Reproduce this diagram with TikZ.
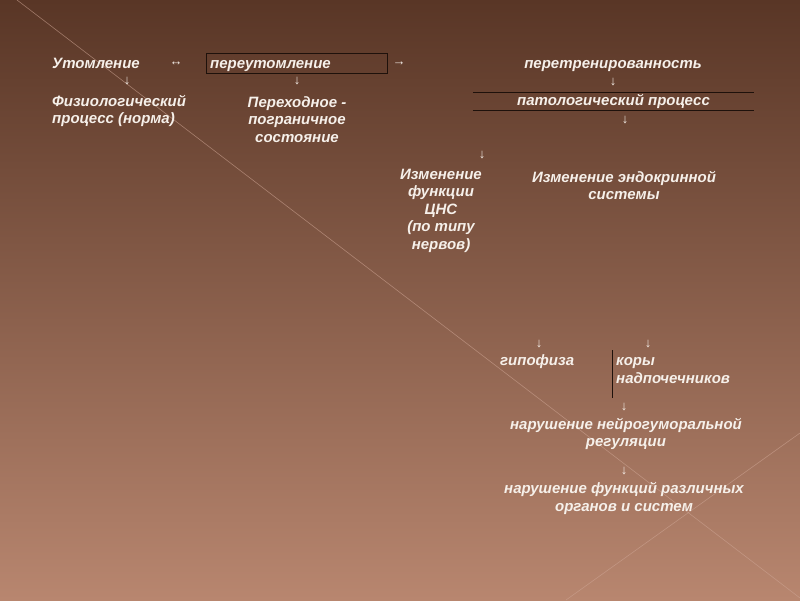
\documentclass[tikz,border=0pt]{standalone}
\usepackage{fontspec}
\setmainfont{Liberation Sans}
\definecolor{bgtop}{HTML}{593626}
\definecolor{bgbot}{HTML}{B8866F}
\definecolor{txt}{HTML}{F6F0EA}
\definecolor{ln}{HTML}{1E110B}
\definecolor{diag}{HTML}{CDA493}
\tikzset{
  lbl/.style={inner sep=0pt, text=txt, font=\fontsize{15}{17.5}\selectfont\bfseries\itshape},
  lblL/.style={lbl, anchor=west, align=left},
  lblC/.style={lbl, align=center},
  arr/.style={inner sep=0pt, text=txt, font=\fontsize{13}{15}\selectfont},
  rule/.style={draw=ln, line width=0.9pt},
  frame/.style={draw=ln, line width=0.9pt, inner sep=0pt},
  diagline/.style={draw=diag, line width=0.6pt, opacity=0.6}
}
\begin{document}
\begin{tikzpicture}[x=1pt,y=-1pt]
\useasboundingbox (0,0) rectangle (800,600);
\shade[top color=bgtop, bottom color=bgbot] (0,0) rectangle (800,600);
\draw[diagline] (17,0) -- (800,598);
\draw[diagline] (800,433) -- (566,600);

% row 1
\node[lbl, anchor=base west] (ut) at (52,68) {Утомление};
\node[arr] (a1) at (176,64) {↔};
\node[frame, minimum width=181pt, minimum height=20pt] (per) at (296.5,63) {};
\node[lbl, anchor=base west] (pert) at (210,68) {переутомление};
\node[arr] (a2) at (399,64) {→};
\node[lbl, anchor=base] (ptr) at (613,68) {перетренированность};

% row 2 arrows
\node[arr] (d1) at (127,81) {↓};
\node[arr] (d2) at (297,81) {↓};
\node[arr] (d3) at (613,82) {↓};

\node[lblL] (fiz) at (52,111) {Физиологический\\процесс (норма)};
\node[lblC] (prx) at (297,119.5) {Переходное -\\пограничное\\состояние};

\node[lbl, minimum width=281pt, minimum height=18pt] (pat) at (613.5,101.3) {патологический процесс};
\draw[rule] (pat.north west) -- (pat.north east);
\draw[rule] (pat.south west) -- (pat.south east);

\node[arr] (d4) at (625,120) {↓};
\node[arr] (d5) at (482,155) {↓};

\node[lblC] (cns) at (441,210.5) {Изменение\\функции\\ЦНС\\(по типу\\нервов)};
\node[lblC] (endo) at (624,185.5) {Изменение эндокринной\\системы};

\node[arr] (d6) at (539,344) {↓};
\node[arr] (d7) at (648,344) {↓};

\node[lbl, anchor=base west] (gip) at (500,365) {гипофиза};
\node[lblL] (kor) at (616,370.5) {коры\\надпочечников};
\coordinate (vt) at (612,350);
\coordinate (vb) at (612,398);
\draw[rule] (vt) -- (vb);

\node[arr] (d8) at (624,407) {↓};
\node[lblC] (neu) at (626,434) {нарушение нейрогуморальной\\регуляции};
\node[arr] (d9) at (624,471) {↓};
\node[lblC] (fun) at (624,498.5) {нарушение функций различных\\органов и систем};
\end{tikzpicture}
\end{document}
